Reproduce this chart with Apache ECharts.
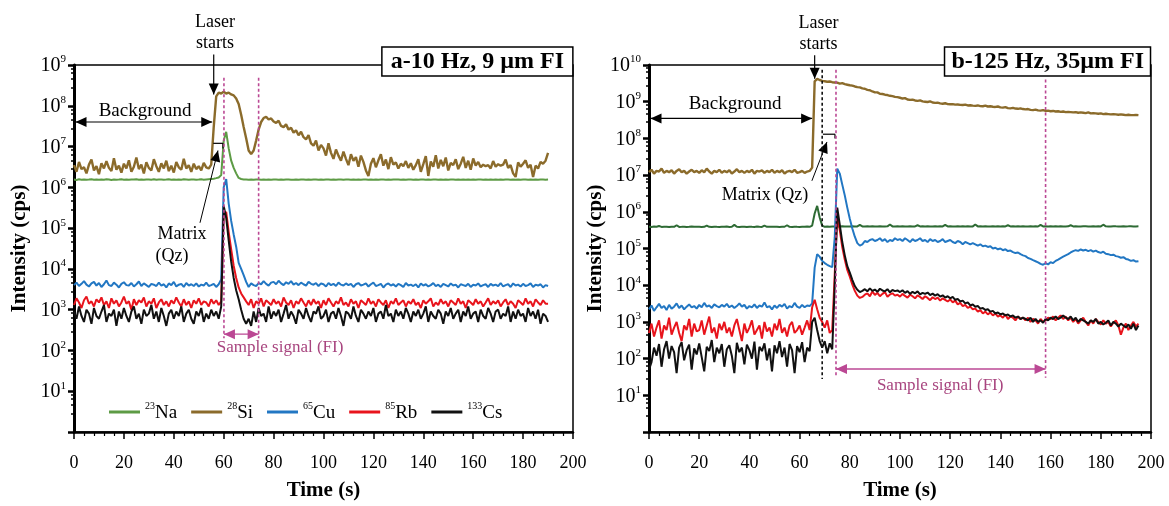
<!DOCTYPE html>
<html>
<head>
<meta charset="utf-8">
<script src="https://cdn.jsdelivr.net/npm/echarts@6/dist/echarts.min.js"></script>
<style>
  html, body { margin: 0; background: #fff; }
  #chart { width: 1169px; height: 506px; }
</style>
</head>
<body>
<div id="chart"></div>
<script>
// ---- panel a: 10 Hz, 9 um FI  (one reading per second, 0..190 s)
var timeA = Array.from({length: 191}, function (_, i) { return i; });

var naA = [
  1.55e6,1.52e6,1.57e6,1.54e6,1.56e6,1.53e6,1.55e6,1.58e6,1.54e6,1.55e6,
  1.53e6,1.56e6,1.54e6,1.57e6,1.55e6,1.52e6,1.56e6,1.54e6,1.55e6,1.57e6,
  1.54e6,1.55e6,1.53e6,1.56e6,1.55e6,1.58e6,1.54e6,1.55e6,1.53e6,1.56e6,
  1.55e6,1.54e6,1.57e6,1.53e6,1.55e6,1.56e6,1.54e6,1.55e6,1.57e6,1.54e6,
  1.56e6,1.53e6,1.55e6,1.54e6,1.57e6,1.55e6,1.53e6,1.56e6,1.55e6,1.54e6,
  1.55e6,1.57e6,1.54e6,1.56e6,1.58e6,1.6e6,1.62e6,1.68e6,1.75e6,2.0e6,
  1.4e7,2.3e7,9.0e6,4.5e6,3.0e6,2.2e6,1.7e6,1.6e6,1.56e6,1.55e6,
  1.54e6,1.55e6,1.53e6,1.55e6,1.56e6,1.54e6,1.55e6,1.53e6,1.55e6,1.54e6,
  1.56e6,1.55e6,1.53e6,1.55e6,1.54e6,1.56e6,1.55e6,1.54e6,1.53e6,1.55e6,
  1.54e6,1.56e6,1.55e6,1.53e6,1.55e6,1.54e6,1.56e6,1.55e6,1.54e6,1.55e6,
  1.53e6,1.55e6,1.56e6,1.54e6,1.55e6,1.53e6,1.55e6,1.56e6,1.54e6,1.55e6,
  1.55e6,1.54e6,1.56e6,1.53e6,1.55e6,1.54e6,1.55e6,1.56e6,1.53e6,1.55e6,
  1.54e6,1.55e6,1.53e6,1.56e6,1.55e6,1.54e6,1.55e6,1.53e6,1.56e6,1.55e6,
  1.56e6,1.54e6,1.55e6,1.53e6,1.55e6,1.56e6,1.54e6,1.55e6,1.53e6,1.55e6,
  1.55e6,1.53e6,1.56e6,1.54e6,1.55e6,1.55e6,1.53e6,1.56e6,1.54e6,1.55e6,
  1.54e6,1.55e6,1.56e6,1.53e6,1.55e6,1.54e6,1.55e6,1.53e6,1.56e6,1.54e6,
  1.55e6,1.53e6,1.55e6,1.56e6,1.54e6,1.55e6,1.53e6,1.55e6,1.54e6,1.56e6,
  1.54e6,1.55e6,1.53e6,1.55e6,1.56e6,1.54e6,1.55e6,1.53e6,1.55e6,1.54e6,
  1.55e6,1.56e6,1.54e6,1.55e6,1.53e6,1.55e6,1.54e6,1.56e6,1.55e6,1.54e6,
  1.55e6
];

var siA = [
  3.5e6,2.4e6,4.2e6,2.8e6,3.1e6,2.2e6,3.6e6,4.8e6,2.6e6,3.3e6,
  2.1e6,3.9e6,2.9e6,4.4e6,3.0e6,2.5e6,5.2e6,2.7e6,3.4e6,2.3e6,
  3.8e6,2.9e6,4.6e6,2.4e6,3.2e6,5.4e6,2.8e6,3.6e6,2.2e6,4.1e6,
  3.0e6,2.6e6,4.9e6,3.3e6,2.4e6,3.9e6,2.9e6,4.5e6,2.5e6,3.4e6,
  2.3e6,4.2e6,3.1e6,2.7e6,5.0e6,2.9e6,3.5e6,2.4e6,3.8e6,2.8e6,
  3.3e6,2.6e6,4.0e6,3.1e6,2.9e6,3.6e6,3.0e7,1.7e8,2.1e8,2.0e8,
  2.2e8,2.0e8,2.1e8,1.9e8,1.8e8,1.5e8,1.1e8,6.0e7,3.0e7,1.6e7,
  8.0e6,6.5e6,8.0e6,1.4e7,2.6e7,4.0e7,5.0e7,5.4e7,4.6e7,4.9e7,
  4.1e7,3.8e7,4.3e7,3.2e7,3.0e7,3.5e7,2.6e7,2.9e7,2.2e7,2.5e7,
  1.9e7,2.3e7,1.7e7,1.5e7,1.9e7,1.2e7,1.05e7,1.4e7,8.0e6,1.1e7,
  9.0e6,6.0e6,1.2e7,7.0e6,5.0e6,8.5e6,6.0e6,4.5e6,7.5e6,5.0e6,
  3.5e6,6.5e6,4.5e6,5.5e6,3.2e6,6.0e6,4.2e6,2.6e6,1.9e6,3.8e6,
  5.2e6,3.1e6,4.6e6,6.5e6,3.4e6,4.8e6,2.8e6,5.5e6,3.6e6,4.1e6,
  2.9e6,3.8e6,3.3e6,4.4e6,3.0e6,3.9e6,2.7e6,3.5e6,4.9e6,2.4e6,
  3.7e6,5.8e6,1.9e6,4.3e6,3.2e6,6.1e6,2.9e6,4.7e6,3.3e6,5.4e6,
  2.6e6,4.0e6,3.5e6,4.9e6,2.8e6,3.8e6,5.6e6,3.0e6,4.5e6,2.7e6,
  5.1e6,3.4e6,4.2e6,3.1e6,3.6e6,3.3e6,3.5e6,2.9e6,4.4e6,3.2e6,
  3.7e6,3.4e6,3.6e6,4.8e6,3.0e6,3.5e6,2.2e6,1.8e6,4.1e6,3.2e6,
  3.8e6,4.6e6,3.0e6,3.6e6,1.8e6,3.4e6,2.9e6,4.2e6,3.8e6,4.5e6,
  7.0e6
];

var cuA = [
  4.0e3,4.6e3,3.8e3,4.3e3,5.0e3,4.1e3,3.7e3,4.4e3,4.8e3,3.9e3,
  4.5e3,3.6e3,4.2e3,5.2e3,4.0e3,3.8e3,4.6e3,4.1e3,3.5e3,4.3e3,
  4.7e3,4.0e3,3.9e3,4.5e3,3.7e3,4.2e3,4.9e3,3.8e3,4.4e3,4.0e3,
  3.6e3,4.3e3,4.1e3,3.8e3,4.6e3,3.9e3,4.2e3,3.5e3,4.4e3,4.0e3,
  4.8e3,3.7e3,4.1e3,4.3e3,3.6e3,4.5e3,3.9e3,4.2e3,3.8e3,4.4e3,
  3.7e3,4.1e3,3.9e3,4.6e3,3.8e3,4.0e3,4.3e3,3.6e3,4.2e3,5.5e3,
  1.0e6,1.6e6,4.0e5,1.5e5,7.0e4,3.5e4,1.4e4,1.0e4,7.0e3,4.8e3,
  3.6e3,4.4e3,4.0e3,3.8e3,4.5e3,4.2e3,5.0e3,4.3e3,3.9e3,4.6e3,
  4.8e3,4.2e3,5.1e3,4.4e3,4.0e3,4.7e3,4.3e3,5.0e3,4.1e3,4.5e3,
  4.0e3,4.6e3,4.2e3,3.9e3,4.8e3,4.3e3,4.1e3,4.5e3,3.8e3,4.4e3,
  4.2e3,3.7e3,4.5e3,4.0e3,4.3e3,3.8e3,4.6e3,4.1e3,3.9e3,4.4e3,
  4.0e3,4.3e3,3.6e3,4.2e3,4.5e3,3.9e3,4.1e3,4.4e3,3.7e3,4.2e3,
  4.6e3,3.8e3,4.0e3,4.3e3,3.5e3,4.1e3,4.4e3,3.9e3,4.2e3,3.7e3,
  4.3e3,4.0e3,3.6e3,4.5e3,3.9e3,4.1e3,3.8e3,4.2e3,3.5e3,4.4e3,
  3.9e3,4.2e3,3.7e3,4.0e3,4.5e3,3.8e3,4.1e3,3.6e3,4.3e3,4.0e3,
  3.7e3,4.4e3,3.9e3,4.1e3,3.5e3,4.2e3,4.0e3,3.8e3,4.3e3,3.6e3,
  4.1e3,3.9e3,4.4e3,3.7e3,4.0e3,4.2e3,3.6e3,4.3e3,3.9e3,4.1e3,
  3.8e3,4.5e3,3.7e3,4.0e3,4.2e3,3.6e3,4.4e3,3.9e3,4.1e3,3.7e3,
  4.3e3,3.8e3,4.0e3,4.4e3,3.6e3,4.1e3,3.9e3,4.2e3,3.5e3,4.0e3,
  3.8e3
];

var rbA = [
  1.3e3,1.9e3,1.5e3,1.1e3,1.7e3,2.1e3,1.4e3,1.6e3,1.2e3,1.8e3,
  1.5e3,2.0e3,1.3e3,1.6e3,1.1e3,1.9e3,1.4e3,1.7e3,1.2e3,1.5e3,
  2.1e3,1.4e3,1.6e3,1.0e3,1.8e3,1.3e3,1.7e3,1.5e3,2.0e3,1.2e3,
  1.6e3,1.4e3,1.9e3,1.1e3,1.5e3,1.8e3,1.3e3,1.6e3,1.2e3,1.7e3,
  1.4e3,2.0e3,1.5e3,1.2e3,1.8e3,1.3e3,1.6e3,1.1e3,1.7e3,1.4e3,
  1.9e3,1.3e3,1.6e3,1.5e3,1.2e3,1.8e3,1.4e3,1.7e3,1.3e3,1.6e3,
  2.0e5,2.5e5,8.0e4,3.0e4,1.2e4,6.0e3,3.5e3,2.5e3,2.0e3,1.6e3,
  1.3e3,1.8e3,1.1e3,1.6e3,1.4e3,1.9e3,1.2e3,1.7e3,1.5e3,1.3e3,
  1.8e3,1.4e3,1.6e3,1.2e3,2.0e3,1.5e3,1.3e3,1.7e3,1.1e3,1.6e3,
  1.4e3,1.9e3,1.5e3,1.2e3,1.7e3,1.3e3,1.8e3,1.4e3,1.6e3,1.1e3,
  1.7e3,1.3e3,1.9e3,1.5e3,1.2e3,1.6e3,1.4e3,2.0e3,1.3e3,1.5e3,
  1.2e3,1.8e3,1.4e3,1.6e3,1.1e3,1.7e3,1.5e3,1.3e3,1.9e3,1.4e3,
  1.6e3,1.2e3,1.8e3,1.5e3,1.3e3,1.7e3,1.1e3,1.6e3,1.4e3,1.9e3,
  1.3e3,1.5e3,1.7e3,1.2e3,1.6e3,1.4e3,1.8e3,1.3e3,1.5e3,1.1e3,
  1.7e3,1.4e3,1.6e3,1.9e3,1.2e3,1.5e3,1.3e3,1.8e3,1.4e3,1.6e3,
  1.2e3,1.7e3,1.5e3,1.3e3,1.9e3,1.4e3,1.6e3,1.1e3,1.7e3,1.5e3,
  1.3e3,1.8e3,1.4e3,1.6e3,1.2e3,1.5e3,1.9e3,1.3e3,1.6e3,1.4e3,
  1.7e3,1.2e3,1.5e3,1.8e3,1.3e3,1.6e3,1.4e3,1.1e3,1.7e3,1.5e3,
  1.3e3,1.9e3,1.4e3,1.6e3,1.2e3,1.8e3,1.5e3,1.3e3,1.7e3,1.4e3,
  1.4e3
];

var csA = [
  9e2,6e2,1.2e3,7e2,5e2,1.0e3,8e2,4.5e2,1.1e3,7e2,
  6e2,9e2,1.3e3,5e2,8e2,7e2,1.0e3,4e2,9e2,6e2,
  1.1e3,7e2,5e2,9e2,1.2e3,6e2,8e2,4.5e2,1.0e3,7e2,
  8e2,1.3e3,6e2,9e2,5e2,1.1e3,7e2,4e2,8e2,1.0e3,
  6e2,9e2,7e2,1.2e3,5e2,8e2,1.0e3,6e2,4.5e2,9e2,
  7e2,1.1e3,5e2,8e2,6e2,1.0e3,7e2,9e2,6e2,1.2e3,
  3.5e5,1.8e5,5.0e4,1.5e4,6.0e3,3.0e3,1.8e3,1.0e3,6e2,4.5e2,
  6e2,4e2,9e2,5e2,1.1e3,7e2,8e2,5e2,1.2e3,6e2,
  9e2,7e2,1.0e3,5e2,8e2,1.3e3,6e2,9e2,7e2,4.5e2,
  1.0e3,8e2,6e2,1.1e3,7e2,5e2,9e2,8e2,1.2e3,6e2,
  7e2,1.0e3,5e2,8e2,9e2,6e2,1.1e3,7e2,4e2,9e2,
  8e2,6e2,1.2e3,7e2,5e2,1.0e3,8e2,6e2,9e2,7e2,
  1.1e3,5e2,8e2,9e2,6e2,1.3e3,7e2,8e2,5e2,1.0e3,
  7e2,9e2,6e2,1.1e3,8e2,5e2,9e2,7e2,1.0e3,6e2,
  8e2,1.2e3,5e2,9e2,7e2,6e2,1.0e3,8e2,4.5e2,9e2,
  7e2,1.1e3,6e2,8e2,1.0e3,5e2,9e2,7e2,1.2e3,6e2,
  8e2,9e2,5e2,1.0e3,7e2,6e2,1.1e3,8e2,5e2,9e2,
  1.0e3,6e2,8e2,7e2,1.2e3,5e2,9e2,6e2,1.0e3,7e2,
  8e2,5e2,1.1e3,7e2,9e2,6e2,1.0e3,4.5e2,8e2,7e2,
  5e2
];

// ---- panel b: 125 Hz, 35 um FI  (one reading per second, 0..195 s)
var timeB = Array.from({length: 196}, function (_, i) { return i; });

var naB = [
  3.9e5,3.85e5,3.95e5,3.9e5,4.1e5,3.88e5,3.92e5,3.9e5,3.86e5,3.94e5,
  3.9e5,4.3e5,3.88e5,3.9e5,3.93e5,3.87e5,3.9e5,3.95e5,3.89e5,3.9e5,
  3.92e5,3.88e5,3.9e5,4.2e5,3.9e5,3.86e5,3.94e5,3.9e5,3.88e5,3.91e5,
  3.9e5,3.95e5,3.87e5,3.9e5,4.4e5,3.9e5,3.88e5,3.92e5,3.9e5,3.86e5,
  3.93e5,3.9e5,3.88e5,3.95e5,3.9e5,3.87e5,4.2e5,3.9e5,3.92e5,3.89e5,
  3.9e5,3.94e5,3.88e5,3.9e5,3.91e5,4.3e5,3.9e5,3.87e5,3.93e5,3.9e5,
  3.88e5,3.92e5,3.9e5,3.95e5,3.9e5,4.2e5,9.0e5,1.45e6,7.0e5,4.2e5,
  3.9e5,3.95e5,3.92e5,3.98e5,4.0e5,4.0e5,3.96e5,4.02e5,4.0e5,3.98e5,
  4.0e5,4.05e5,3.98e5,4.0e5,4.4e5,4.0e5,3.97e5,4.02e5,4.0e5,4.03e5,
  3.99e5,4.0e5,4.04e5,3.98e5,4.0e5,4.02e5,4.5e5,4.0e5,3.98e5,4.01e5,
  4.0e5,4.03e5,3.99e5,4.0e5,4.02e5,3.98e5,4.0e5,4.3e5,4.0e5,4.01e5,
  3.99e5,4.02e5,4.0e5,3.98e5,4.03e5,4.0e5,4.01e5,3.99e5,4.4e5,4.0e5,
  4.02e5,3.98e5,4.0e5,4.01e5,3.99e5,4.03e5,4.0e5,4.02e5,3.98e5,4.0e5,
  4.5e5,4.0e5,4.01e5,3.99e5,4.02e5,4.0e5,3.98e5,4.03e5,4.0e5,4.01e5,
  4.0e5,4.02e5,3.99e5,4.3e5,4.0e5,4.01e5,3.98e5,4.02e5,4.0e5,4.03e5,
  4.0e5,3.99e5,4.02e5,4.0e5,4.01e5,3.98e5,4.4e5,4.0e5,4.02e5,4.0e5,
  4.01e5,3.99e5,4.03e5,4.0e5,4.02e5,3.98e5,4.0e5,4.01e5,4.3e5,4.0e5,
  4.02e5,4.0e5,3.99e5,4.01e5,4.03e5,4.0e5,3.98e5,4.02e5,4.0e5,4.01e5,
  4.0e5,4.45e5,4.02e5,3.99e5,4.0e5,4.03e5,4.01e5,4.0e5,3.98e5,4.02e5,
  4.0e5,4.01e5,4.03e5,4.0e5,3.99e5,4.02e5
];

var siB = [
  1.2e7,1.4e7,1.1e7,1.3e7,1.25e7,1.5e7,1.15e7,1.3e7,1.2e7,1.35e7,
  1.1e7,1.3e7,1.45e7,1.2e7,1.3e7,1.1e7,1.25e7,1.4e7,1.2e7,1.3e7,
  1.15e7,1.35e7,1.2e7,1.5e7,1.25e7,1.1e7,1.3e7,1.2e7,1.4e7,1.15e7,
  1.3e7,1.2e7,1.35e7,1.1e7,1.25e7,1.45e7,1.2e7,1.3e7,1.15e7,1.3e7,
  1.2e7,1.4e7,1.1e7,1.3e7,1.25e7,1.35e7,1.15e7,1.3e7,1.2e7,1.4e7,
  1.15e7,1.3e7,1.2e7,1.35e7,1.1e7,1.25e7,1.3e7,1.2e7,1.4e7,1.15e7,
  1.2e7,1.3e7,1.15e7,1.25e7,1.3e7,1.6e7,3.6e9,4.2e9,3.9e9,3.7e9,
  3.6e9,3.5e9,3.55e9,3.4e9,3.35e9,3.3e9,3.1e9,3.2e9,3.0e9,2.9e9,
  2.8e9,2.75e9,2.6e9,2.5e9,2.45e9,2.3e9,2.25e9,2.1e9,2.05e9,1.9e9,
  1.8e9,1.8e9,1.65e9,1.62e9,1.55e9,1.52e9,1.45e9,1.42e9,1.35e9,1.33e9,
  1.28e9,1.22e9,1.25e9,1.15e9,1.12e9,1.14e9,1.08e9,1.05e9,1.09e9,1.02e9,
  1.0e9,9.8e8,1.02e9,9.5e8,9.3e8,9.4e8,9.0e8,8.8e8,9.1e8,8.6e8,
  8.5e8,8.6e8,8.3e8,8.4e8,8.2e8,8.1e8,8.3e8,7.9e8,8.0e8,7.8e8,
  7.7e8,7.9e8,7.6e8,7.5e8,7.8e8,7.4e8,7.5e8,7.3e8,7.2e8,7.4e8,
  7.0e8,6.9e8,7.1e8,6.7e8,6.6e8,6.8e8,6.5e8,6.4e8,6.6e8,6.3e8,
  6.2e8,6.3e8,6.0e8,5.9e8,6.1e8,5.8e8,5.7e8,5.9e8,5.6e8,5.7e8,
  5.5e8,5.6e8,5.4e8,5.5e8,5.3e8,5.4e8,5.2e8,5.3e8,5.2e8,5.1e8,
  5.2e8,5.0e8,5.1e8,5.0e8,4.9e8,5.1e8,4.8e8,4.9e8,4.8e8,4.7e8,
  4.8e8,4.6e8,4.7e8,4.6e8,4.5e8,4.6e8,4.5e8,4.4e8,4.5e8,4.4e8,
  4.3e8,4.4e8,4.3e8,4.3e8,4.35e8,4.3e8
];

var cuB = [
  2.2e3,2.8e3,2.0e3,2.5e3,3.1e3,2.4e3,2.7e3,2.1e3,2.9e3,2.3e3,
  2.6e3,3.2e3,2.4e3,2.8e3,2.2e3,2.6e3,3.0e3,2.5e3,2.7e3,2.3e3,
  2.9e3,2.5e3,3.3e3,2.6e3,2.8e3,2.4e3,3.0e3,2.7e3,2.5e3,2.9e3,
  2.6e3,3.1e3,2.5e3,2.8e3,2.4e3,2.7e3,3.2e3,2.6e3,2.9e3,2.3e3,
  2.7e3,2.5e3,3.0e3,2.4e3,2.8e3,2.6e3,3.4e3,2.5e3,2.7e3,2.2e3,
  2.8e3,2.4e3,2.9e3,2.6e3,3.1e3,2.3e3,2.7e3,2.5e3,3.3e3,2.6e3,
  2.4e3,2.9e3,2.5e3,2.8e3,2.7e3,3.2e3,3.0e4,7.0e4,6.0e4,4.6e4,
  4.0e4,3.6e4,3.3e4,3.1e4,2.0e5,1.5e7,1.1e7,5.5e6,2.8e6,1.3e6,
  6.5e5,3.5e5,2.1e5,1.4e5,1.2e5,1.3e5,1.6e5,1.5e5,1.7e5,1.8e5,
  1.6e5,1.7e5,1.9e5,1.6e5,1.8e5,1.5e5,1.7e5,1.6e5,1.9e5,1.7e5,
  1.8e5,1.6e5,1.9e5,1.7e5,1.5e5,1.8e5,1.6e5,1.7e5,1.9e5,1.6e5,
  1.7e5,1.5e5,1.8e5,1.6e5,1.7e5,1.5e5,1.6e5,1.8e5,1.5e5,1.6e5,
  1.7e5,1.5e5,1.4e5,1.6e5,1.5e5,1.3e5,1.5e5,1.4e5,1.3e5,1.4e5,
  1.3e5,1.2e5,1.3e5,1.15e5,1.2e5,1.1e5,1.15e5,1.0e5,1.05e5,9.5e4,
  1.0e5,9.0e4,9.5e4,8.5e4,8.8e4,8.0e4,7.5e4,7.8e4,7.0e4,6.5e4,
  6.2e4,5.5e4,5.2e4,4.8e4,4.5e4,4.2e4,3.8e4,3.6e4,4.0e4,3.7e4,
  4.2e4,4.0e4,4.6e4,5.0e4,5.5e4,6.0e4,6.5e4,7.0e4,7.8e4,8.5e4,
  9.0e4,8.6e4,9.4e4,8.8e4,9.2e4,8.5e4,9.0e4,8.2e4,8.8e4,8.0e4,
  7.6e4,8.2e4,7.2e4,7.0e4,6.6e4,6.8e4,6.2e4,6.0e4,5.6e4,5.8e4,
  5.2e4,5.0e4,4.6e4,4.8e4,4.4e4,4.5e4
];

var rbB = [
  5e2,9e2,4e2,7e2,1.1e3,3.5e2,8e2,6e2,1.3e3,4.5e2,
  7e2,1.0e3,5e2,3e2,8e2,6e2,1.2e3,4e2,9e2,5.5e2,
  6e2,1.1e3,4.5e2,8e2,1.4e3,5e2,7e2,3.5e2,9e2,6e2,
  1.0e3,5e2,7e2,4e2,8e2,1.2e3,6e2,3e2,9e2,5e2,
  7e2,1.1e3,4.5e2,6e2,8e2,3.5e2,1.0e3,5.5e2,7e2,4e2,
  9e2,6e2,1.2e3,5e2,7e2,4e2,8e2,1.0e3,5e2,6e2,
  8e2,4.5e2,7e2,1.1e3,6e2,2.5e3,4.0e3,2.2e3,1.3e3,1.0e3,
  7e2,1.1e3,5e2,6e2,2.0e4,8.0e5,3.2e5,1.1e5,5.0e4,2.6e4,
  1.7e4,1.05e4,7.0e3,5.2e3,4.5e3,4.8e3,5.5e3,6.0e3,5.0e3,6.8e3,
  5.4e3,6.2e3,5.0e3,5.8e3,6.5e3,4.8e3,5.6e3,6.0e3,5.2e3,5.5e3,
  4.9e3,5.8e3,5.1e3,4.6e3,5.5e3,5.0e3,4.4e3,5.3e3,4.8e3,4.2e3,
  5.0e3,4.5e3,3.9e3,4.7e3,4.2e3,4.6e3,3.8e3,4.4e3,4.0e3,3.6e3,
  4.1e3,3.4e3,3.8e3,3.0e3,3.3e3,2.7e3,2.9e3,2.4e3,2.6e3,2.2e3,
  2.3e3,1.9e3,2.1e3,1.7e3,1.9e3,1.6e3,1.8e3,1.5e3,1.7e3,1.4e3,
  1.5e3,1.3e3,1.6e3,1.2e3,1.4e3,1.3e3,1.1e3,1.4e3,1.2e3,1.3e3,
  1.1e3,1.3e3,1.0e3,1.2e3,1.1e3,9e2,1.2e3,1.0e3,1.1e3,1.3e3,
  1.2e3,1.4e3,1.1e3,1.3e3,1.5e3,1.2e3,1.4e3,1.1e3,1.3e3,1.0e3,
  1.2e3,9e2,1.1e3,1.3e3,1.0e3,8e2,1.1e3,9e2,1.2e3,1.0e3,
  8.5e2,1.1e3,9e2,1.0e3,7.5e2,9.5e2,1.1e3,8e2,4.5e2,7e2,
  9e2,6e2,8e2,1.0e3,7.5e2,9e2
];

var csB = [
  5e1,8e1,2e2,1.2e2,2.5e2,6e1,1.8e2,3e2,1e2,2.2e2,
  1.5e2,4e1,2e2,2.8e2,9e1,1.7e2,2.4e2,5e1,1.9e2,1.3e2,
  2.6e2,1.1e2,4.5e1,2.1e2,1.6e2,3.2e2,8e1,2e2,1.4e2,2.5e2,
  6e1,1.8e2,2.3e2,1.2e2,4e1,2.7e2,1.5e2,2e2,7e1,2.4e2,
  1.7e2,1e2,2.9e2,5e1,2.1e2,1.6e2,2.6e2,9e1,1.9e2,4.5e1,
  2.3e2,1.4e2,3e2,1.1e2,2e2,6e1,2.5e2,1.7e2,4e1,2.2e2,
  1.5e2,2.8e2,8e1,2e2,1.6e2,1.0e3,1.3e3,6e2,3e2,2e2,
  3e2,1.4e2,2.6e2,1.8e2,1.0e4,1.3e6,4.5e5,1.5e5,6.5e4,3.3e4,
  2.2e4,1.4e4,9.5e3,7.5e3,6.5e3,7.0e3,7.8e3,6.8e3,8.2e3,7.0e3,
  7.6e3,6.6e3,8.0e3,7.2e3,6.8e3,7.8e3,6.4e3,7.4e3,6.9e3,7.2e3,
  6.5e3,7.3e3,6.2e3,6.9e3,5.8e3,6.6e3,6.0e3,6.8e3,5.6e3,6.2e3,
  5.8e3,6.3e3,5.4e3,5.9e3,5.2e3,5.7e3,4.9e3,5.3e3,4.6e3,5.0e3,
  4.4e3,4.8e3,4.0e3,4.2e3,3.6e3,3.8e3,3.2e3,3.4e3,2.8e3,3.0e3,
  2.6e3,2.7e3,2.3e3,2.4e3,2.1e3,2.2e3,1.9e3,2.0e3,1.7e3,1.8e3,
  1.6e3,1.7e3,1.5e3,1.6e3,1.4e3,1.5e3,1.3e3,1.4e3,1.2e3,1.3e3,
  1.2e3,1.1e3,1.3e3,1.0e3,1.2e3,1.0e3,1.1e3,9.5e2,1.2e3,1.1e3,
  1.3e3,1.2e3,1.4e3,1.2e3,1.3e3,1.5e3,1.3e3,1.2e3,1.4e3,1.1e3,
  1.3e3,1.0e3,1.2e3,1.1e3,1.0e3,9e2,1.1e3,1.0e3,1.2e3,9e2,
  1.0e3,8.5e2,9.5e2,1.1e3,8e2,1.0e3,9e2,7.5e2,9e2,8e2,
  7e2,8.5e2,6.5e2,9e2,6e2,8e2
];

var isotopes = ['23Na', '28Si', '65Cu', '85Rb', '133Cs'];
var colorsA = ['#5d9b45', '#8b6b2b', '#2277c3', '#e8141c', '#111111'];
var colorsB = ['#2e6b34', '#8b6b2b', '#2277c3', '#e8141c', '#111111'];
var xTicks = {min: 0, max: 200, step: 20};

var serif = '"Liberation Serif", "DejaVu Serif", serif';
var pink = '#bb4894';

var chart = echarts.init(document.getElementById('chart'));

function pairs(t, v) { return v.map(function (y, i) { return [t[i], y]; }); }

function makeSeries(names, cols, t, arrays, k) {
  return arrays.map(function (arr, i) {
    return {
      name: names[i], type: 'line', xAxisIndex: k, yAxisIndex: k,
      data: pairs(t, arr), showSymbol: false, symbol: 'none',
      lineStyle: {color: cols[i], width: i === 1 ? 2.4 : 2},
      itemStyle: {color: cols[i]}, z: 2 + i, silent: true, animation: false
    };
  });
}

function xAxis(k) {
  return {
    type: 'value', gridIndex: k, min: xTicks.min, max: xTicks.max, interval: xTicks.step,
    name: 'Time (s)', nameLocation: 'middle', nameGap: 48,
    nameTextStyle: {fontFamily: serif, fontWeight: 'bold', fontSize: 21, color: '#000'},
    axisLine: {lineStyle: {color: '#000', width: 2.5}},
    axisTick: {inside: false, length: 7, lineStyle: {color: '#000', width: 1.5}},
    minorTick: {show: true, splitNumber: 5, length: 4, lineStyle: {color: '#000', width: 1.2}},
    axisLabel: {fontFamily: serif, fontSize: 18, color: '#000', margin: 22},
    splitLine: {show: false}
  };
}

function yAxis(k, maxV, gap) {
  return {
    type: 'log', logBase: 10, gridIndex: k, min: 1, max: maxV, interval: 1,
    name: 'Intensity (cps)', nameLocation: 'middle', nameGap: gap,
    nameTextStyle: {fontFamily: serif, fontWeight: 'bold', fontSize: 21, color: '#000'},
    axisLine: {lineStyle: {color: '#000', width: 3}},
    axisTick: {inside: false, length: 6, lineStyle: {color: '#000', width: 2.5}},
    minorTick: {show: true, splitNumber: 5, length: 3, lineStyle: {color: '#000', width: 1.5}},
    axisLabel: {
      showMinLabel: false, margin: 8,
      formatter: function (v) { return '{b|10}{s|' + Math.round(Math.log10(v)) + '}'; },
      rich: {
        b: {fontFamily: serif, fontSize: 20, color: '#000', verticalAlign: 'bottom', lineHeight: 22},
        s: {fontFamily: serif, fontSize: 11, color: '#000', verticalAlign: 'top', lineHeight: 12}
      }
    },
    splitLine: {show: false}
  };
}

var boxStyle = {fontFamily: serif, fontWeight: 'bold', fontSize: 24, color: '#000'};

chart.setOption({
  backgroundColor: '#fff',
  animation: false,
  title: [
    {text: 'a-10 Hz, 9 µm FI', right: 596, top: 47, padding: [3, 9, 2, 9],
     borderColor: '#000', borderWidth: 1.5, backgroundColor: '#fff', textStyle: boxStyle, z: 20},
    {text: 'b-125 Hz, 35µm FI', right: 18, top: 47, padding: [3, 7, 2, 7],
     borderColor: '#000', borderWidth: 1.5, backgroundColor: '#fff', textStyle: boxStyle, z: 20}
  ],
  legend: {
    data: isotopes, left: 104, top: 396, icon: 'rect', itemWidth: 31, itemHeight: 3, itemGap: 14,
    formatter: function (n) { var m = n.match(/^(\d+)(\D+)$/); return '{s|' + m[1] + '}{n|' + m[2] + '}'; },
    textStyle: {
      rich: {
        s: {fontFamily: serif, fontSize: 10, color: '#000', verticalAlign: 'top', lineHeight: 12},
        n: {fontFamily: serif, fontSize: 19, color: '#000', verticalAlign: 'bottom', lineHeight: 22}
      }
    },
    selectedMode: false
  },
  grid: [
    {left: 74, top: 65, width: 499, height: 372, show: true, borderColor: '#000', borderWidth: 1.5},
    {left: 649, top: 65, width: 502, height: 372, show: true, borderColor: '#000', borderWidth: 1.5}
  ],
  xAxis: [xAxis(0), xAxis(1)],
  yAxis: [yAxis(0, 1e9, 44), yAxis(1, 1e10, 40)],
  series: makeSeries(isotopes, colorsA, timeA, [naA, siA, cuA, rbA, csA], 0)
    .concat(makeSeries(isotopes, colorsB, timeB, [naB, siB, cuB, rbB, csB], 1))
});

// ---- annotations, given in data coordinates of each panel
var notesA = {
  laser: [[56, 1.8e9], [56, 1.9e8]], laserText: [56.5, 1.8e9],
  background: [[0.6, 4e7], [55.4, 4e7]], backgroundText: [28.5, 7.5e7],
  matrix: [[50.5, 1.35e5], [57.7, 8e6]], bracket: [[55.8, 1.2e7], [59.7, 1.2e7], [59.7, 9e6]],
  matrixText: [[43.3, 6.9e4, 'Matrix'], [39.3, 2e4, '(Qz)']],
  dotted: [[60.1, 4.9e8, 2e2, pink], [74, 4.9e8, 2e2, pink]],
  fi: [[60.1, 2.5e2], [74, 2.5e2]], fiText: [82.6, 1.15e2]
};
var notesB = {
  laser: [[66, 1.85e10], [66, 4.2e9]], laserText: [67.5, 1.85e10],
  background: [[0.6, 3.5e8], [65, 3.5e8]], backgroundText: [34.3, 8.9e8],
  matrix: [[64.9, 7e6], [70.9, 8e7]], bracket: [[69.3, 1.3e8], [74.1, 1.3e8], [74.1, 1.0e8]],
  matrixText: [[46.2, 2.8e6, 'Matrix (Qz)']],
  dotted: [[69, 7.4e9, 28, '#111'], [74.5, 7.4e9, 30, pink], [158, 4e9, 30, pink]],
  fi: [[74.5, 52], [158, 52]], fiText: [116, 18]
};

function head(tip, from, color) {
  var dx = tip[0] - from[0], dy = tip[1] - from[1];
  var L = Math.sqrt(dx * dx + dy * dy), ux = dx / L, uy = dy / L, s = 11, w = 5;
  var bx = tip[0] - ux * s, by = tip[1] - uy * s;
  return {type: 'polygon', z: 30, shape: {points: [[tip[0], tip[1]], [bx - uy * w, by + ux * w], [bx + uy * w, by - ux * w]]},
          style: {fill: color}};
}
function seg(a, b, color, width, dash) {
  return {type: 'line', z: 30, shape: {x1: a[0], y1: a[1], x2: b[0], y2: b[1]},
          style: {stroke: color, lineWidth: width, lineDash: dash || null}};
}
function label(p, text, size, color) {
  return {type: 'text', z: 31, x: p[0], y: p[1],
          style: {text: text, font: size + 'px ' + serif, fill: color, align: 'center', verticalAlign: 'middle'}};
}

function buildNotes(k, n) {
  var P = function (d) { return chart.convertToPixel({gridIndex: k}, d); };
  var els = [];
  var l0 = P(n.laser[0]), l1 = P(n.laser[1]);
  els.push(seg(l0, l1, '#000', 1.2), head(l1, l0, '#000'));
  var lt = P(n.laserText);
  els.push(label([lt[0], lt[1] - 32], 'Laser', 18, '#000'), label([lt[0], lt[1] - 11], 'starts', 18, '#000'));
  var b0 = P(n.background[0]), b1 = P(n.background[1]);
  els.push(seg(b0, b1, '#000', 1.2), head(b0, b1, '#000'), head(b1, b0, '#000'));
  els.push(label(P(n.backgroundText), 'Background', 19, '#000'));
  var m0 = P(n.matrix[0]), m1 = P(n.matrix[1]);
  els.push(seg(m0, m1, '#000', 1), head(m1, m0, '#000'));
  var br = n.bracket.map(P);
  els.push(seg(br[0], br[1], '#000', 1.2), seg(br[1], br[2], '#000', 1.2));
  n.matrixText.forEach(function (m) { els.push(label(P([m[0], m[1]]), m[2], 18, '#000')); });
  n.dotted.forEach(function (d) { els.push(seg(P([d[0], d[1]]), P([d[0], d[2]]), d[3], 1.6, [3, 2.5])); });
  var f0 = P(n.fi[0]), f1 = P(n.fi[1]);
  els.push(seg(f0, f1, pink, 1.3), head(f0, f1, pink), head(f1, f0, pink));
  els.push(label(P(n.fiText), 'Sample signal (FI)', 17, '#a8457f'));
  return els;
}

chart.setOption({graphic: buildNotes(0, notesA).concat(buildNotes(1, notesB))});
</script>
</body>
</html>
